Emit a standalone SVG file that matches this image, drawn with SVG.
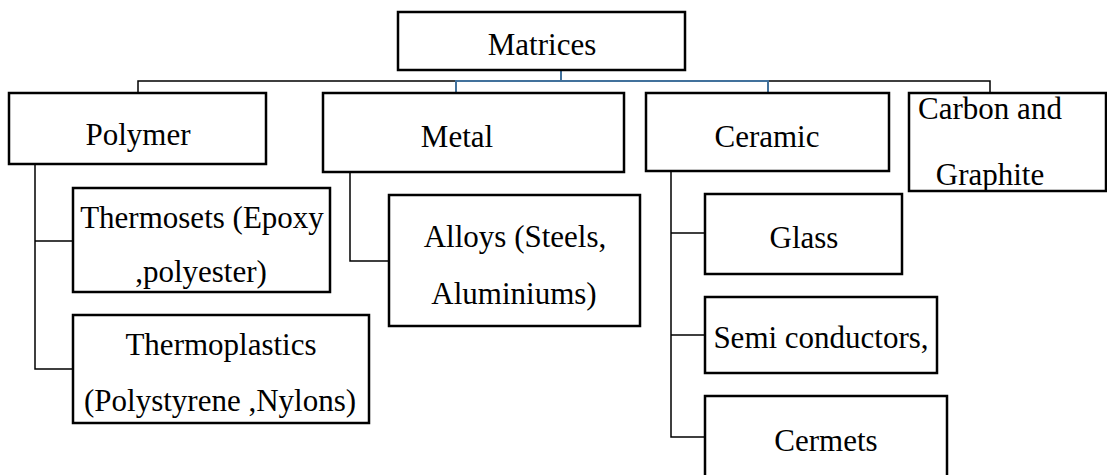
<svg xmlns="http://www.w3.org/2000/svg" width="1107" height="475" viewBox="0 0 1107 475">
<style>
.box{fill:#fff;stroke:#000;stroke-width:2.5}
.t{font-family:"Liberation Serif","DejaVu Serif",serif;font-size:31px;fill:#000;text-anchor:middle}
.c{fill:none;stroke:#000;stroke-width:1.5}
.b{fill:none;stroke:#41719C;stroke-width:2}
</style>
<rect width="1107" height="475" fill="#fff"/>
<g id="connectors">
<path class="c" d="M138,93V81H456M768,81H990V93"/>
<path class="b" d="M456,93V81H768V93M561,70V81"/>
<path class="c" d="M35,164V369H73M35,241H73"/>
<path class="c" d="M350,172V261H389"/>
<path class="c" d="M671,171V437H705M671,233H705M671,335H705"/>
</g>
<g id="matrices"><rect class="box" x="398" y="12" width="287" height="58"/><text class="t" x="542" y="55">Matrices</text></g>
<g id="polymer"><rect class="box" x="9" y="93" width="257" height="71"/><text class="t" x="138" y="145">Polymer</text></g>
<g id="metal"><rect class="box" x="323" y="93" width="301" height="79"/><text class="t" x="457" y="147">Metal</text></g>
<g id="ceramic"><rect class="box" x="646" y="93" width="243" height="78"/><text class="t" x="767" y="147">Ceramic</text></g>
<g id="carbon"><rect class="box" x="909" y="93" width="197" height="98"/><text class="t" x="990" y="119">Carbon and</text><text class="t" x="990" y="185">Graphite</text></g>
<g id="thermosets"><rect class="box" x="73" y="188" width="257" height="104"/><text class="t" x="202" y="228">Thermosets (Epoxy</text><text class="t" x="201" y="282">,polyester)</text></g>
<g id="thermoplastics"><rect class="box" x="73" y="315" width="296" height="108"/><text class="t" x="221" y="355">Thermoplastics</text><text class="t" x="220" y="411">(Polystyrene ,Nylons)</text></g>
<g id="alloys"><rect class="box" x="389" y="195" width="251" height="131"/><text class="t" x="515" y="247">Alloys (Steels,</text><text class="t" x="514" y="304">Aluminiums)</text></g>
<g id="glass"><rect class="box" x="705" y="194" width="197" height="80"/><text class="t" x="804" y="248">Glass</text></g>
<g id="semi"><rect class="box" x="705" y="297" width="232" height="76"/><text class="t" x="821" y="348">Semi conductors,</text></g>
<g id="cermets"><rect class="box" x="705" y="396" width="242" height="90"/><text class="t" x="826" y="451">Cermets</text></g>
</svg>
